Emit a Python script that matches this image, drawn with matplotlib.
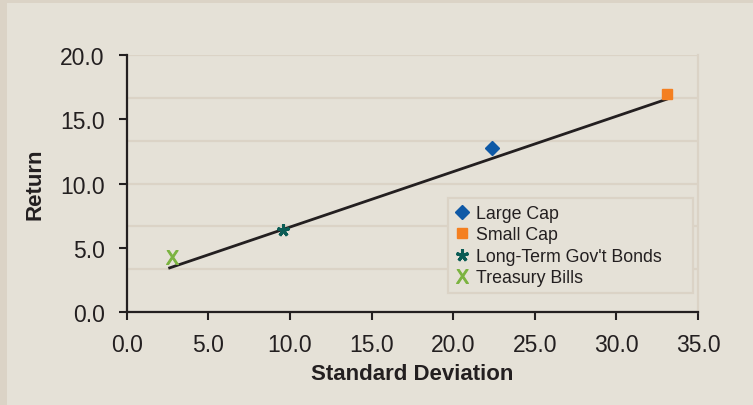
import numpy as np
import matplotlib
matplotlib.use("Agg")
import matplotlib.pyplot as plt
from matplotlib.patches import Rectangle
from matplotlib.ticker import FormatStrFormatter

# ---- data ----
series_names = ["Large Cap", "Small Cap", "Long-Term Gov't Bonds", "Treasury Bills"]
std_dev = [22.4, 33.1, 9.6, 2.8]
returns = [12.8, 17.0, 6.4, 4.3]
trend_x = [2.55, 33.4]
trend_y = [3.4, 16.7]
x_ticks = [0, 5, 10, 15, 20, 25, 30, 35]
y_ticks = [0, 5, 10, 15, 20]
grid_levels = [0, 10/3, 20/3, 10, 40/3, 50/3, 20]

colors = ["#0f59a6", "#f47f20", "#0b5c55", "#7bb33f"]
markers = ["D", "s", (5, 2, 0), "$\\mathsf{X}$"]
msizes = [7, 7.5, 9, 10]
mews = [1, 1, 2.2, 0.8]

BG = "#e5e1d7"
EDGE = "#dbd3c6"
INK = "#231f20"

plt.rcParams['font.family'] = ['Liberation Sans', 'DejaVu Sans']

fig = plt.figure(figsize=(7.53, 4.06), dpi=100, facecolor=BG)
ax = fig.add_axes([0.1683, 0.229, 0.7587, 0.633])
ax.set_facecolor(BG)

# frame strips (left and top) of the surrounding box
fig.patches.append(Rectangle((0, 0), 7/753, 1, transform=fig.transFigure,
                             facecolor=EDGE, edgecolor='none', zorder=0))
fig.patches.append(Rectangle((0, 1 - 4/406), 1, 4/406, transform=fig.transFigure,
                             facecolor=EDGE, edgecolor='none', zorder=0))

for g in grid_levels:
    ax.axhline(g, color=EDGE, lw=1.6, zorder=0)

ax.plot(trend_x, trend_y, color=INK, lw=2.0, zorder=2, solid_capstyle='butt')

for name, x, y, c, m, ms, mew in zip(series_names, std_dev, returns, colors, markers, msizes, mews):
    ax.plot([x], [y], linestyle='none', marker=m, color=c, markersize=ms,
            markeredgewidth=mew, markeredgecolor=c, label=name, zorder=3)

ax.set_xlim(0, 35)
ax.set_ylim(0, 20)
ax.set_xticks(x_ticks)
ax.set_yticks(y_ticks)
ax.xaxis.set_major_formatter(FormatStrFormatter('%.1f'))
ax.yaxis.set_major_formatter(FormatStrFormatter('%.1f'))
ax.tick_params(axis='both', direction='out', length=6, width=1.5, color=INK,
               labelsize=16.5, labelcolor=INK)
ax.tick_params(axis='y', pad=10)
ax.tick_params(axis='x', pad=9)

for s in ['left', 'bottom']:
    ax.spines[s].set_color(INK)
    ax.spines[s].set_linewidth(1.6)
ax.spines['right'].set_color(EDGE)
ax.spines['right'].set_linewidth(1.6)
ax.spines['top'].set_visible(False)

ax.set_xlabel("Standard Deviation", fontsize=16, fontweight='bold', color=INK, labelpad=5)
ax.set_ylabel("Return", fontsize=16, fontweight='bold', color=INK, labelpad=10)

leg = ax.legend(loc='upper left', bbox_to_anchor=(0.562, 0.05, 0.429, 0.394),
                mode='expand', borderaxespad=0, fontsize=12.8, frameon=True,
                fancybox=False, handlelength=0.8, handletextpad=0.4,
                labelspacing=0.25, borderpad=0.4, markerscale=1.0)
frame = leg.get_frame()
frame.set_facecolor(BG)
frame.set_edgecolor(EDGE)
frame.set_linewidth(1.6)
frame.set_alpha(1)
for t in leg.get_texts():
    t.set_color(INK)

fig.savefig("out.png", dpi=100, facecolor=BG)
